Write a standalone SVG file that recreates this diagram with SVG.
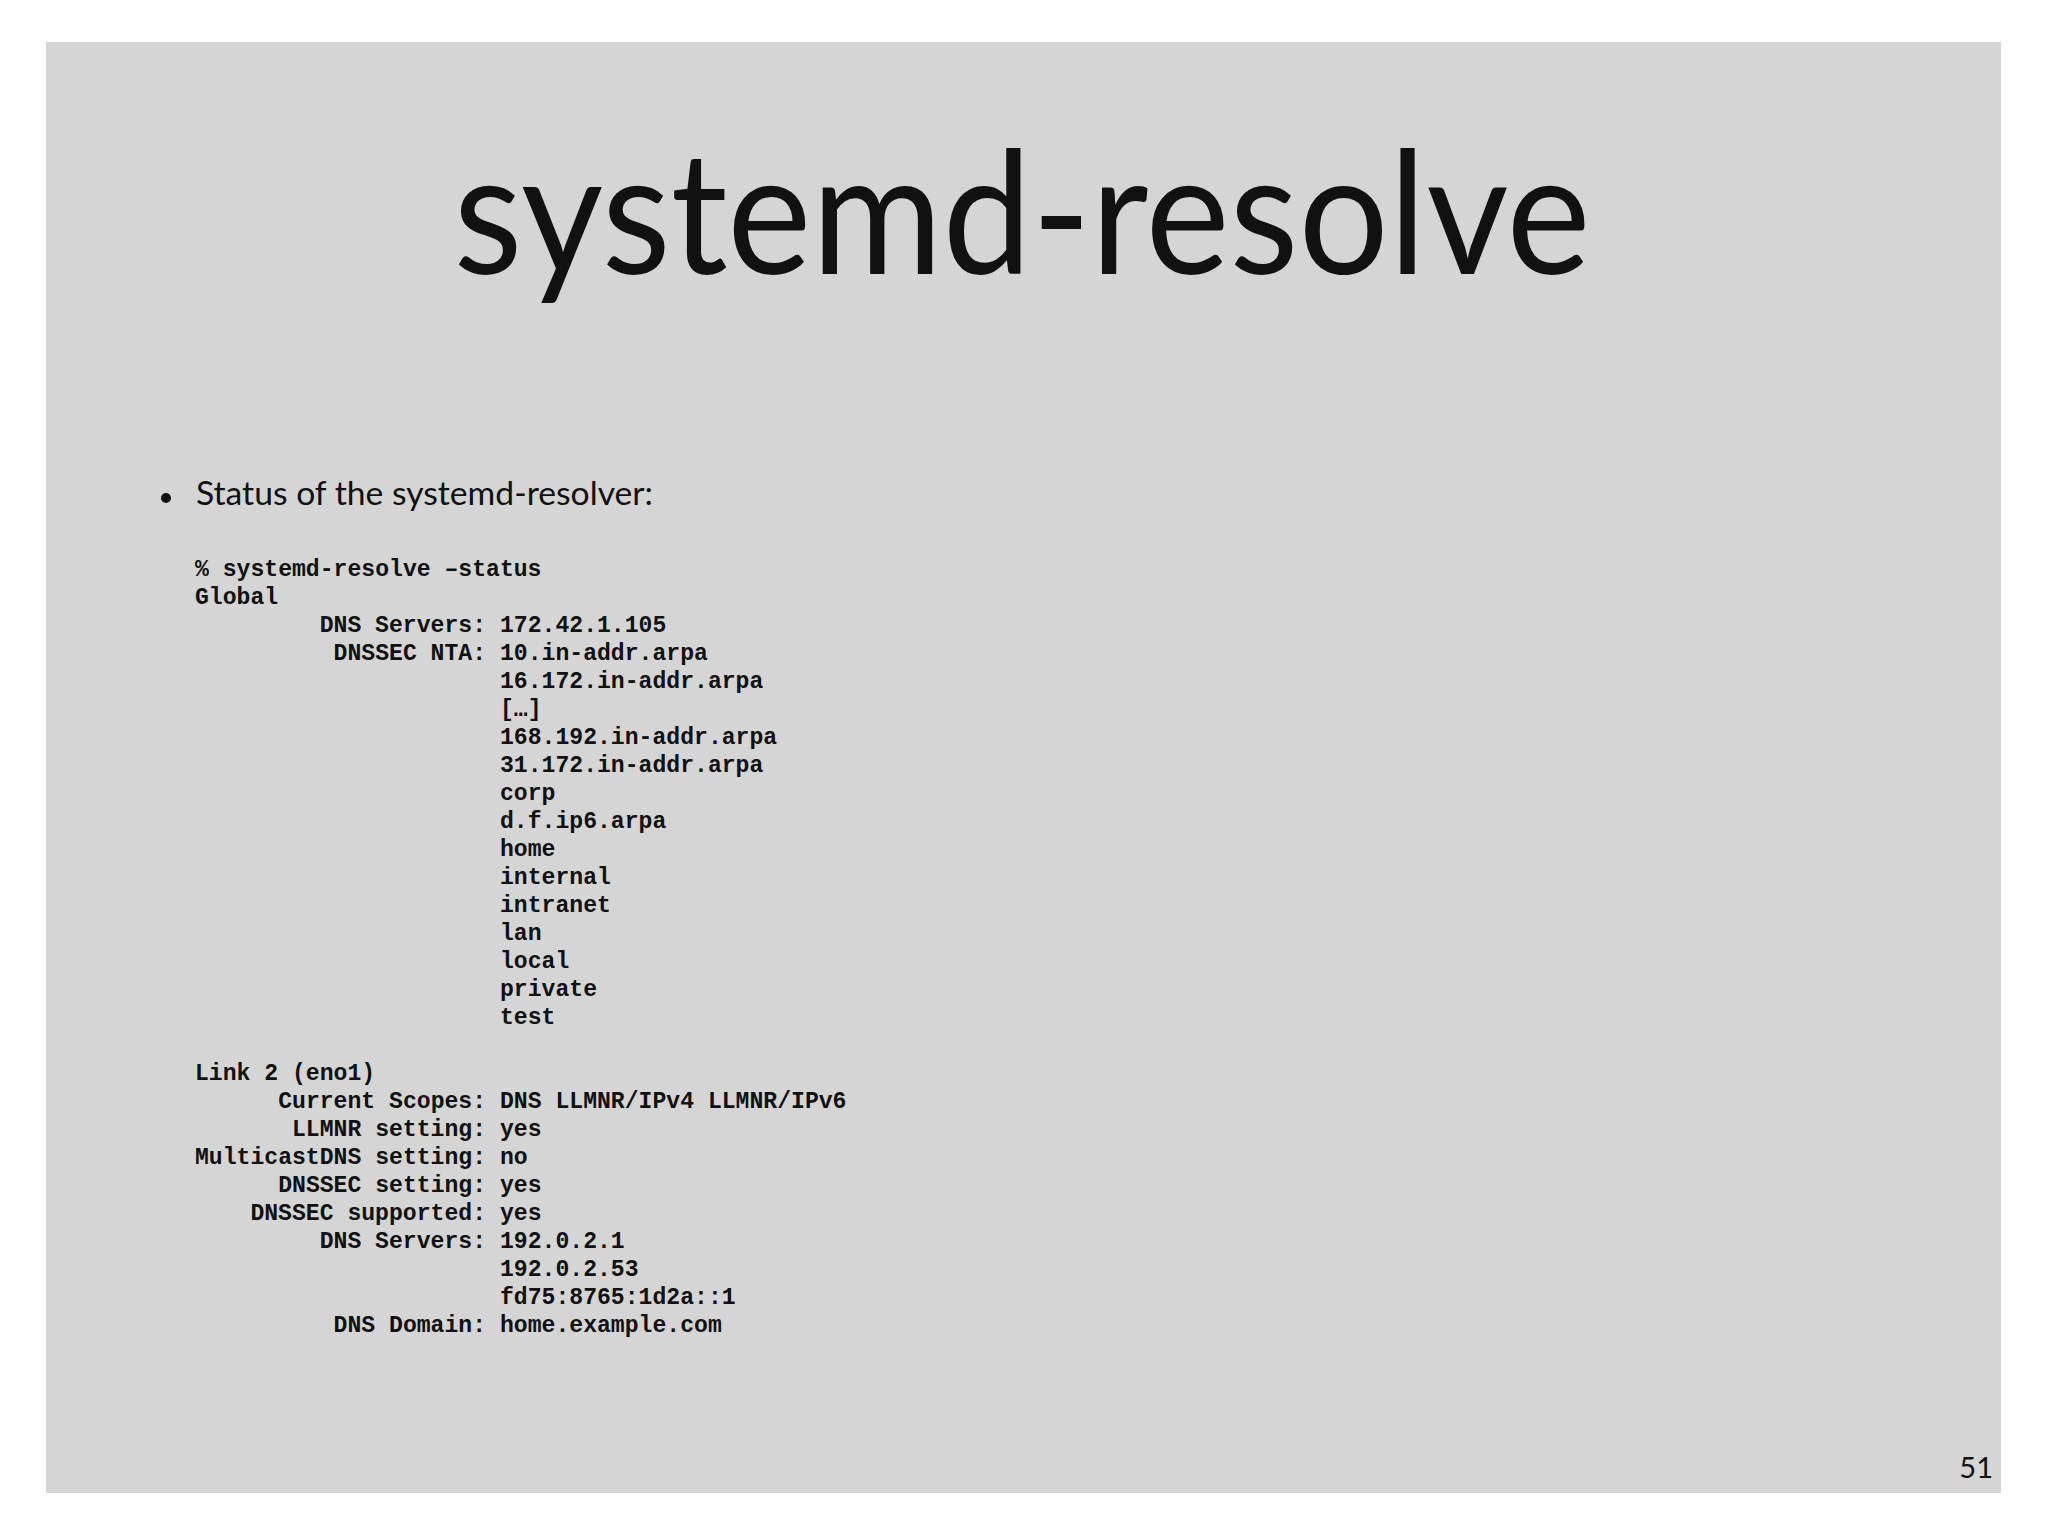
<svg xmlns="http://www.w3.org/2000/svg" width="2048" height="1536" viewBox="0 0 2048 1536">
<style>
.m{font-family:"Liberation Mono",monospace;font-size:23.1px;font-weight:bold;fill:#111}
.s{font-family:Lato,"Noto Sans",sans-serif;fill:#111}
</style>
<rect width="2048" height="1536" fill="#fff"/>
<rect x="46" y="42" width="1955" height="1451" fill="#d5d5d5"/>
<text class="s" x="1022" y="274" font-size="170" text-anchor="middle" textLength="1137" lengthAdjust="spacingAndGlyphs">systemd-resolve</text>
<circle cx="166" cy="498" r="5" fill="#111"/>
<text class="s" x="196" y="505" font-size="33" textLength="457" lengthAdjust="spacingAndGlyphs">Status of the systemd-resolver:</text>
<g class="m">
<text x="195" y="576">% systemd-resolve –status</text>
<text x="195" y="604">Global</text>
<text x="319.7" y="632">DNS Servers:</text><text x="500" y="632">172.42.1.105</text>
<text x="333.6" y="660">DNSSEC NTA:</text><text x="500" y="660">10.in-addr.arpa</text>
<text x="500" y="688">16.172.in-addr.arpa</text>
<text x="500" y="716">[…]</text>
<text x="500" y="744">168.192.in-addr.arpa</text>
<text x="500" y="772">31.172.in-addr.arpa</text>
<text x="500" y="800">corp</text>
<text x="500" y="828">d.f.ip6.arpa</text>
<text x="500" y="856">home</text>
<text x="500" y="884">internal</text>
<text x="500" y="912">intranet</text>
<text x="500" y="940">lan</text>
<text x="500" y="968">local</text>
<text x="500" y="996">private</text>
<text x="500" y="1024">test</text>
<text x="195" y="1080">Link 2 (eno1)</text>
<text x="278.2" y="1108">Current Scopes:</text><text x="500" y="1108">DNS LLMNR/IPv4 LLMNR/IPv6</text>
<text x="292" y="1136">LLMNR setting:</text><text x="500" y="1136">yes</text>
<text x="195" y="1164">MulticastDNS setting:</text><text x="500" y="1164">no</text>
<text x="278.2" y="1192">DNSSEC setting:</text><text x="500" y="1192">yes</text>
<text x="250.4" y="1220">DNSSEC supported:</text><text x="500" y="1220">yes</text>
<text x="319.7" y="1248">DNS Servers:</text><text x="500" y="1248">192.0.2.1</text>
<text x="500" y="1276">192.0.2.53</text>
<text x="500" y="1304">fd75:8765:1d2a::1</text>
<text x="333.6" y="1332">DNS Domain:</text><text x="500" y="1332">home.example.com</text>
</g>
<text class="s" x="1993" y="1478" font-size="29" text-anchor="end">51</text>
</svg>
